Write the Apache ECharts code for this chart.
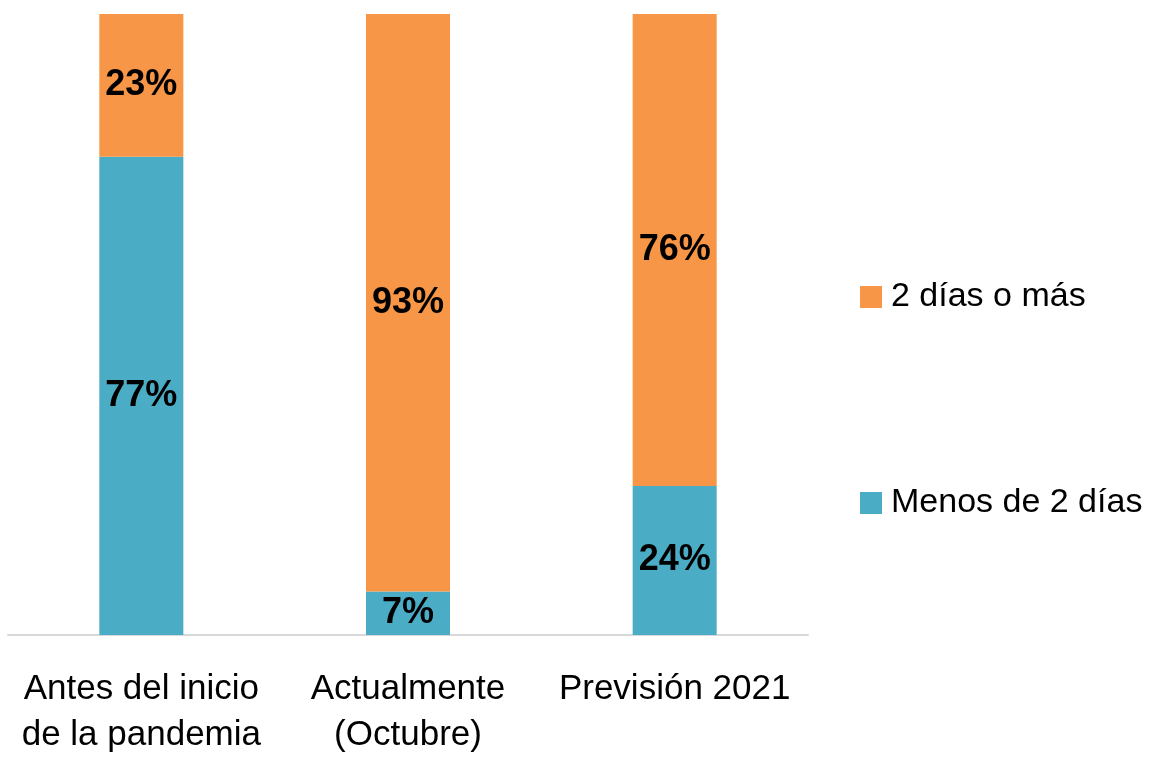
<!DOCTYPE html>
<html>
<head>
<meta charset="UTF-8">
<title>Días de teletrabajo</title>
<style>
  html, body { margin: 0; padding: 0; background: #fff; }
  #main { width: 1154px; height: 758px; }
</style>
</head>
<body>
<div id="main"></div>
<script src="https://cdn.jsdelivr.net/npm/echarts@6/dist/echarts.min.js"></script>
<script>
// datos
var categorias = ['Antes del inicio\nde la pandemia', 'Actualmente\n(Octubre)', 'Previsión 2021'];
var menos2 = [77, 7, 24];
var mas2 = [23, 93, 76];
var nombres = ['Menos de 2 días', '2 días o más'];

var fuente = "'Liberation Sans Narrow', 'Arial Narrow', 'Liberation Sans', sans-serif";
var myChart = echarts.init(document.getElementById('main'));

var etiqueta = {
  show: true,
  position: 'inside',
  formatter: '{c}%',
  color: '#000',
  fontFamily: fuente,
  fontWeight: 'bold',
  fontSize: 36
};

myChart.setOption({
  animation: false,
  grid: { left: 8, right: 346, top: 14, bottom: 123, outerBoundsMode: 'none' },
  legend: {
    orient: 'vertical',
    left: 860,
    top: 280,
    padding: 0,
    itemWidth: 22,
    itemHeight: 22,
    itemGap: 172,
    icon: 'rect',
    data: [nombres[1], nombres[0]],
    textStyle: { color: '#000', fontFamily: fuente, fontSize: 34, lineHeight: 34, padding: [0, 0, 0, 4] }
  },
  xAxis: {
    type: 'category',
    data: categorias,
    axisLine: { lineStyle: { color: '#D9D9D9', width: 2 } },
    axisTick: { show: false },
    axisLabel: { interval: 0, color: '#000', fontFamily: fuente, fontSize: 35, lineHeight: 46, margin: 31 }
  },
  yAxis: {
    type: 'value',
    min: 0,
    max: 100,
    show: false,
    splitLine: { show: false }
  },
  series: [
    {
      name: nombres[0],
      type: 'bar',
      stack: 'total',
      barWidth: 84,
      data: menos2,
      itemStyle: { color: '#4BACC6' },
      label: etiqueta
    },
    {
      name: nombres[1],
      type: 'bar',
      stack: 'total',
      barWidth: 84,
      data: mas2,
      itemStyle: { color: '#F79646' },
      label: etiqueta
    }
  ]
});
</script>
</body>
</html>
